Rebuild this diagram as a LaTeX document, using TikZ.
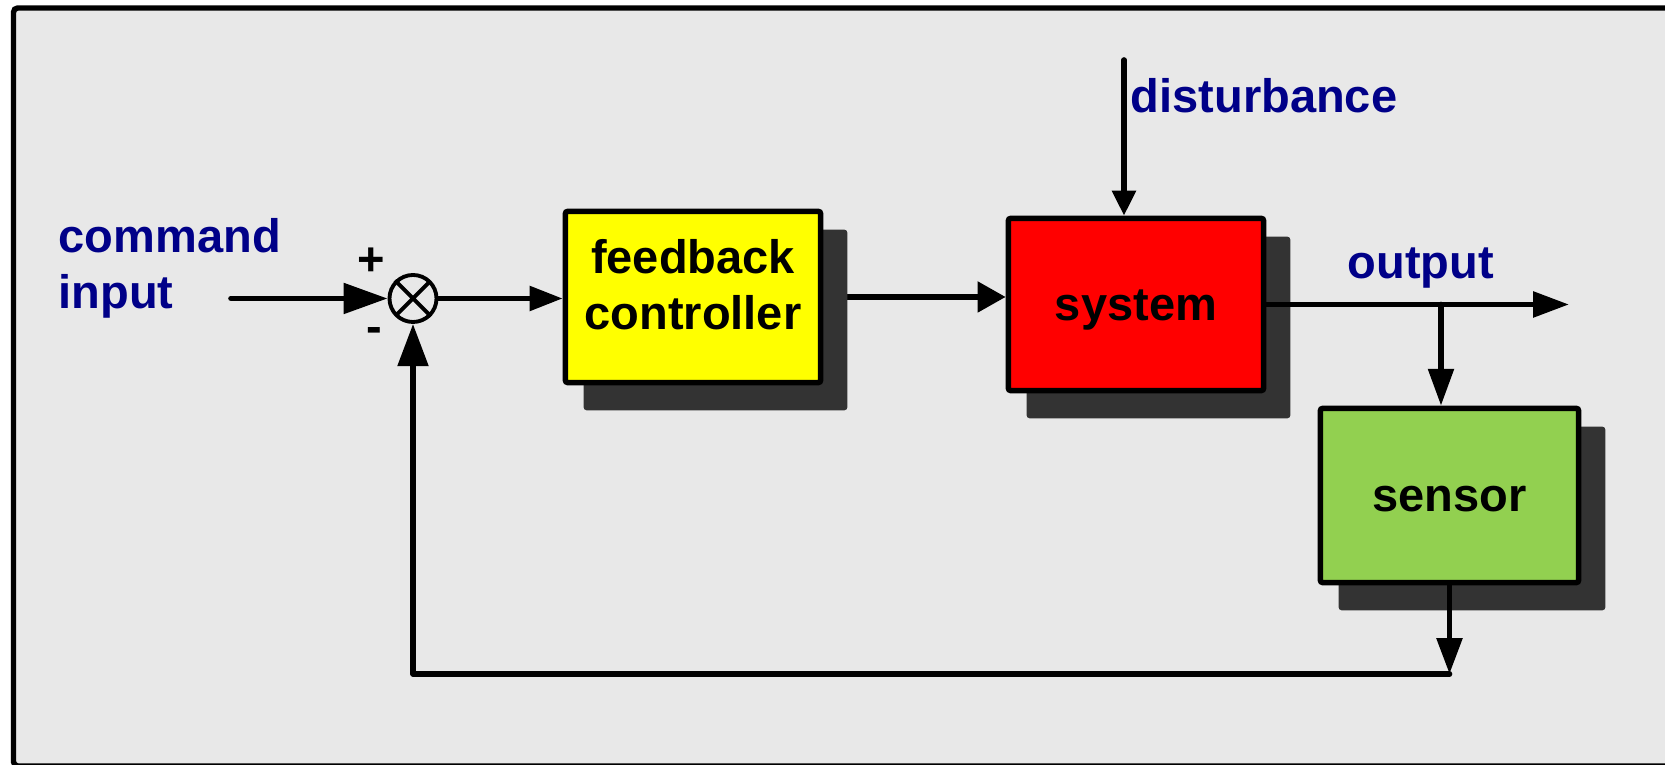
\documentclass[tikz,border=0pt]{standalone}
\usepackage{fontspec}
\setmainfont{Liberation Sans}
\usetikzlibrary{arrows.meta,calc}
\definecolor{panel}{HTML}{E8E8E8}
\definecolor{labelblue}{HTML}{000088}
\definecolor{ctrlyellow}{HTML}{FFFF00}
\definecolor{sysred}{HTML}{FF0000}
\definecolor{sensgreen}{HTML}{92D050}
\definecolor{shadowgray}{HTML}{333333}
\pgfdeclarelayer{bg}
\pgfdeclarelayer{shade}
\pgfsetlayers{bg,shade,main}

\begin{document}
\begin{tikzpicture}[x=0.01cm,y=-0.01cm,
  txt/.style={font=\fontsize{13.37pt}{16pt}\selectfont\bfseries},
  blockbox/.style={txt, draw=black, line width=1.55pt, rounded corners=0.6pt,
    inner sep=0pt, align=center},
  onerow/.style={text height=12.1pt, text depth=2.83pt},
  lbl/.style={txt, text=labelblue, inner sep=0pt},
  sign/.style={txt, inner sep=0pt},
  sumnode/.style={circle, draw=black, line width=1.1pt, minimum size=0.47cm, inner sep=0pt},
  wire/.style={line width=1.6pt, line cap=round, line join=round},
  arr/.style 2 args={wire, -{Triangle[length=#1, width=#2]}},
  shadowfill/.style={fill=shadowgray, rounded corners=0.8pt}
]
\useasboundingbox (0,0) rectangle (1665,765);

% panel with its frame (runs off the right edge)
\begin{pgfonlayer}{bg}
  \draw[line width=1.55pt, fill=panel, rounded corners=1.2pt] (13.5,8) rectangle (1700,766);
\end{pgfonlayer}

% summing junction
\node[sumnode] (sum) at (413,298.5) {};
\draw[line width=1.1pt, shorten <=0.5pt, shorten >=0.5pt]
  (sum.north west) -- (sum.south east)
  (sum.north east) -- (sum.south west);

% blocks
\node[blockbox, fill=ctrlyellow, minimum width=2.55cm, minimum height=1.71cm] (ctrl)
  at (693,297) {feedback\\controller\rule[-7.1pt]{0pt}{7.1pt}};
\node[blockbox, onerow, fill=sysred, minimum width=2.55cm, minimum height=1.72cm] (sys)
  at (1136,304.5) {system};
\node[blockbox, onerow, fill=sensgreen, minimum width=2.58cm, minimum height=1.74cm] (sens)
  at (1449.5,495.5) {sensor};

% drop shadows
\begin{pgfonlayer}{shade}
  \foreach \b in {ctrl,sys,sens}
    \fill[shadowfill] ([shift={(21,21)}]\b.north west) rectangle ([shift={(24,25)}]\b.south east);
\end{pgfonlayer}

% free ends of signal lines
\coordinate (cmdin) at (231,298.5);
\coordinate (dist) at (1124,60);
\coordinate (outend) at (1569,303);
\coordinate (brx) at (1441,0);
\coordinate (fb) at (0,674);

% signal flow
\draw[arr={12.5pt}{8.5pt}] (cmdin) -- (sum.west);
\draw[arr={9.4pt}{6.8pt}] (sum.east) -- (sum.east -| ctrl.west);
\begin{pgfonlayer}{bg}
  \draw[arr={8pt}{8.5pt}] (ctrl.east) -- (ctrl.east -| sys.west);
\end{pgfonlayer}
\draw[arr={7.1pt}{6.5pt}] (dist) -- (dist |- sys.north);
\draw[arr={10.2pt}{7.1pt}] (sys.east) -- (sys.east -| outend);
\draw[arr={10.5pt}{7.1pt}] (sys.east -| brx) -- (brx |- sens.north);
\draw[arr={10.2pt}{7.1pt}] (sens.south) -- (sens.south |- fb);
\draw[arr={12pt}{8.5pt}] (sens.south |- fb) -- (sum.south |- fb) -- (sum.south);

% labels
\node[lbl, align=left, anchor=west] (cmd) at (58,268) {command\\input};
\node[lbl, anchor=base west] (distlbl) at (1130,113) {disturbance};
\node[lbl, anchor=base west] (outlbl) at (1347,279) {output};
\node[sign] (plus) at (371,262) {+};
\node[sign] (minus) at (374,335) {-};
\end{tikzpicture}
\end{document}
